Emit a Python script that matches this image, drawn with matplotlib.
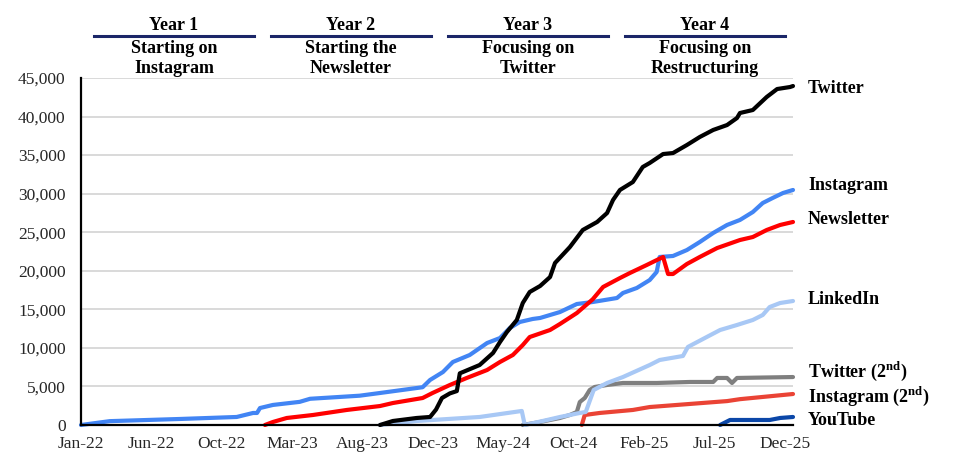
import matplotlib
matplotlib.use('Agg')
import matplotlib.pyplot as plt
import matplotlib.dates as mdates
import matplotlib.transforms as mtransforms
from matplotlib.lines import Line2D
from matplotlib.ticker import FuncFormatter
import pandas as pd

plt.rcParams['font.family'] = ['Liberation Serif', 'DejaVu Serif']
plt.rcParams['mathtext.fontset'] = 'custom'
plt.rcParams['mathtext.rm'] = 'Liberation Serif:bold'

# follower counts
twitter_dates = ['2023-09-07', '2023-10-03', '2023-11-20', '2023-12-17', '2023-12-29', '2024-01-10',
                 '2024-01-26', '2024-02-09', '2024-02-15', '2024-03-26', '2024-04-22', '2024-05-06',
                 '2024-05-20', '2024-06-09', '2024-06-21', '2024-07-05', '2024-07-26', '2024-08-15',
                 '2024-08-25', '2024-09-24', '2024-10-20', '2024-11-18', '2024-12-08', '2024-12-20',
                 '2025-01-03', '2025-01-29', '2025-02-18', '2025-03-04', '2025-03-31', '2025-04-20',
                 '2025-05-18', '2025-06-13', '2025-07-10', '2025-08-07', '2025-08-27', '2025-09-02',
                 '2025-09-28', '2025-10-26', '2025-11-16', '2025-12-12', '2025-12-18']
twitter_values = [0, 520, 910, 1040, 2000, 3500, 4100, 4400, 6700, 7780, 9340, 10760, 12060, 13620,
                  15820, 17250, 18030, 19190, 21010, 23080, 25290, 26330, 27490, 29180, 30480, 31510,
                  33460, 33980, 35140, 35270, 36310, 37350, 38260, 38900, 39810, 40460, 40850, 42540,
                  43570, 43830, 43960]

instagram_dates = ['2022-01-12', '2022-03-11', '2022-07-30', '2022-11-22', '2022-12-25', '2023-01-02',
                   '2023-01-08', '2023-02-03', '2023-03-29', '2023-04-19', '2023-07-28', '2023-09-07',
                   '2023-12-02', '2023-12-17', '2024-01-12', '2024-02-01', '2024-03-06', '2024-04-10',
                   '2024-05-06', '2024-05-26', '2024-06-15', '2024-07-11', '2024-07-26', '2024-09-04',
                   '2024-10-08', '2024-11-09', '2024-12-28', '2025-01-09', '2025-02-06', '2025-03-04',
                   '2025-03-18', '2025-03-24', '2025-04-20', '2025-05-18', '2025-06-13', '2025-07-10',
                   '2025-08-07', '2025-09-02', '2025-09-28', '2025-10-18', '2025-11-07', '2025-11-28',
                   '2025-12-18']
instagram_values = [0, 500, 780, 1040, 1560, 1560, 2200, 2600, 3000, 3400, 3800, 4150, 4900, 5840,
                    6870, 8170, 9080, 10630, 11280, 12580, 13360, 13750, 13880, 14650, 15690, 15950,
                    16470, 17120, 17770, 18800, 19840, 21790, 21920, 22690, 23730, 24900, 25940, 26590,
                    27620, 28790, 29440, 30090, 30480]

newsletter_dates = ['2023-01-18', '2023-02-03', '2023-03-03', '2023-04-25', '2023-07-02', '2023-09-07',
                    '2023-10-03', '2023-12-02', '2023-12-22', '2024-01-26', '2024-02-29', '2024-04-10',
                    '2024-05-06', '2024-06-01', '2024-06-21', '2024-07-05', '2024-08-15', '2024-09-04',
                    '2024-10-08', '2024-11-09', '2024-11-30', '2025-01-03', '2025-01-23', '2025-02-26',
                    '2025-03-31', '2025-04-10', '2025-04-20', '2025-05-18', '2025-06-13', '2025-07-18',
                    '2025-09-02', '2025-09-28', '2025-10-26', '2025-11-22', '2025-12-18']
newsletter_values = [0, 390, 910, 1300, 1950, 2460, 2850, 3500, 4150, 5190, 6100, 7130, 8170, 9080,
                     10370, 11410, 12320, 13100, 14520, 16300, 17900, 19060, 19710, 20750, 21790, 19580,
                     19580, 20880, 21790, 22950, 23990, 24380, 25290, 25940, 26330]

linkedin_dates = ['2023-09-07', '2023-11-20', '2024-03-26', '2024-06-19', '2024-06-25', '2024-08-09',
                  '2024-09-04', '2024-10-14', '2024-10-26', '2024-11-11', '2024-12-08', '2025-01-09',
                  '2025-03-04', '2025-03-24', '2025-05-10', '2025-05-20', '2025-06-27', '2025-07-24',
                  '2025-08-27', '2025-09-28', '2025-10-18', '2025-11-01', '2025-11-22', '2025-12-18']
linkedin_values = [0, 520, 1040, 1820, 0, 650, 1040, 1560, 1690, 4540, 5450, 6220, 7780, 8430, 8950,
                   10120, 11410, 12320, 12970, 13620, 14270, 15300, 15820, 16080]

twitter2_dates = ['2024-06-21', '2024-07-26', '2024-09-04', '2024-09-24', '2024-10-08', '2024-10-14',
                  '2024-10-24', '2024-11-03', '2024-11-13', '2024-12-08', '2025-01-09', '2025-03-18',
                  '2025-05-24', '2025-07-10', '2025-07-18', '2025-08-07', '2025-08-17', '2025-08-27',
                  '2025-12-18']
twitter2_values = [0, 390, 910, 1300, 1690, 2980, 3500, 4540, 4930, 5190, 5450, 5450, 5580, 5580,
                   6100, 6100, 5450, 6100, 6220]

instagram2_dates = ['2024-10-18', '2024-10-24', '2024-11-23', '2025-01-29', '2025-03-04', '2025-08-07',
                    '2025-09-02', '2025-12-18']
instagram2_values = [0, 1300, 1560, 1950, 2330, 3100, 3350, 4020]

youtube_dates = ['2025-07-24', '2025-08-13', '2025-11-01', '2025-11-22', '2025-12-18']
youtube_values = [0, 650, 650, 910, 1040]

year_titles = ['Year 1', 'Year 2', 'Year 3', 'Year 4']
phase_titles = ['Starting on\nInstagram', 'Starting the\nNewsletter',
                'Focusing on\nTwitter', 'Focusing on\nRestructuring']

W, H = 977, 466


def fx(px):
    return px / W


def fy(py):
    return 1 - py / H


def plot_growth():
    fig = plt.figure(figsize=(W / 100, H / 100), dpi=100)
    ax = fig.add_axes([fx(81), fy(425), 712 / W, 347 / H])

    # bottom to top drawing order
    series = [
        (youtube_dates, youtube_values, '#0B47A8', r'YouTube', 520),
        (instagram2_dates, instagram2_values, '#EA4335', r'Instagram (2$^{\mathrm{nd}}$)', 3760),
        (twitter2_dates, twitter2_values, '#7F7F7F', r'Twitter (2$^{\mathrm{nd}}$)', 7000),
        (linkedin_dates, linkedin_values, '#A8C8F5', 'LinkedIn', 16340),
        (instagram_dates, instagram_values, '#4285F4', 'Instagram', 31000),
        (newsletter_dates, newsletter_values, '#FF0000', 'Newsletter', 26590),
        (twitter_dates, twitter_values, '#000000', 'Twitter', 43700),
    ]
    label_tf = mtransforms.blended_transform_factory(ax.transAxes, ax.transData)
    for dates, values, color, name, label_y in series:
        ax.plot(pd.to_datetime(dates), values, color=color, lw=3,
                solid_joinstyle='round', solid_capstyle='round', clip_on=False, zorder=3)
        ax.text(1.021, label_y, name, transform=label_tf, ha='left', va='center',
                fontsize=13, fontweight='bold', color='black')

    start = pd.Timestamp('2022-01-12')
    ax.set_xlim(start, start + pd.Timedelta(days=1436))
    ax.set_xticks([start + pd.Timedelta(days=142 * k) for k in range(11)])
    ax.xaxis.set_major_formatter(mdates.DateFormatter('%b-%y'))

    ax.set_ylim(0, 45000)
    ax.set_yticks(range(0, 45001, 5000))
    ax.yaxis.set_major_formatter(FuncFormatter(lambda v, p: f'{v:,.0f}'))
    ax.yaxis.grid(True, color='#D9D9D9', lw=1.4)
    ax.set_axisbelow(True)

    for side in ['top', 'right']:
        ax.spines[side].set_visible(False)
    for side in ['left', 'bottom']:
        ax.spines[side].set_color('black')
        ax.spines[side].set_linewidth(1.6)
        ax.spines[side].set_zorder(4)
    ax.tick_params(axis='both', length=0, labelsize=12.5, labelcolor='#262626')
    ax.tick_params(axis='x', pad=8)
    ax.tick_params(axis='y', pad=11)

    # phase headers over the plot
    spans = [(94, 254), (271, 431), (448, 608), (625, 785)]
    for (x0, x1), year, phase in zip(spans, year_titles, phase_titles):
        xc = fx((x0 + x1) / 2)
        fig.text(xc, fy(26), year, ha='center', va='center', fontsize=13, fontweight='bold')
        fig.add_artist(Line2D([fx(x0), fx(x1)], [fy(35.5), fy(35.5)], color='#1B2668', lw=2.2))
        fig.text(xc, fy(58.5), phase, ha='center', va='center', fontsize=13,
                 fontweight='bold', linespacing=1.3)

    fig.savefig('out.png', dpi=100)


if __name__ == "__main__":
    plot_growth()
